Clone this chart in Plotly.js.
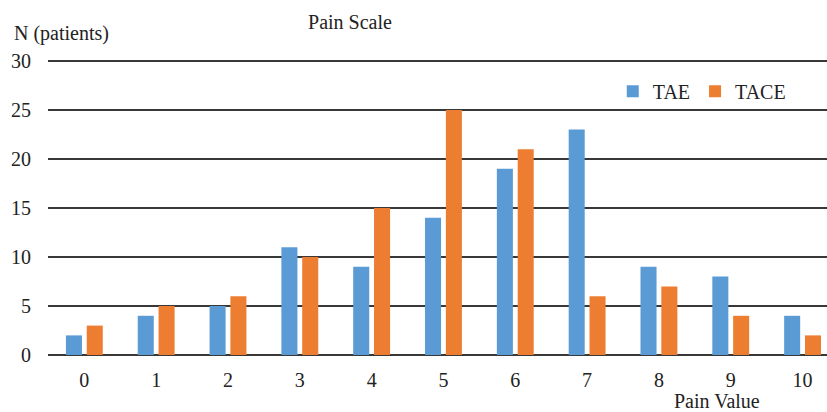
<!DOCTYPE html>
<html>
<head>
<meta charset="utf-8">
<script src="https://cdn.plot.ly/plotly-3.0.1.min.js"></script>
<style>html,body{margin:0;padding:0;background:#fff;}#chart{width:827px;height:412px;}</style>
</head>
<body>
<div id="chart"></div>
<script>
const categories = ['0','1','2','3','4','5','6','7','8','9','10'];
const taeValues = [2, 4, 5, 11, 9, 14, 19, 23, 9, 8, 4];
const taceValues = [3, 5, 6, 10, 15, 25, 21, 6, 7, 4, 2];
const yTicks = [0, 5, 10, 15, 20, 25, 30];

const font = {family: 'Liberation Serif', size: 20, color: '#222'};

const traces = [
  {type: 'bar', name: 'TAE', x: categories.map(Number), y: taeValues, marker: {color: '#5B9BD5'}},
  {type: 'bar', name: 'TACE', x: categories.map(Number), y: taceValues, marker: {color: '#ED7D31'}}
];

const layout = {
  width: 827, height: 412,
  margin: {l: 48, r: 0, t: 57, b: 57},
  paper_bgcolor: '#fff', plot_bgcolor: '#fff',
  font: font,
  barmode: 'group', bargap: 0.42, bargroupgap: 0.23,
  showlegend: true,
  legend: {orientation: 'h', x: 0.725, y: 0.885, xanchor: 'left', yanchor: 'middle', font: font, bgcolor: 'rgba(0,0,0,0)', itemwidth: 30},
  title: {text: 'Pain Scale', font: font, xref: 'container', yref: 'container', x: 350/827, xanchor: 'center', y: 1 - 22/412, yanchor: 'middle'},
  xaxis: {
    range: [-0.506, 10.34], tickvals: categories.map(Number), ticktext: categories,
    showgrid: false, zeroline: false, showline: false,
    ticks: 'outside', ticklen: 7, tickcolor: 'rgba(0,0,0,0)', tickfont: font, fixedrange: true
  },
  yaxis: {
    range: [0, 30.4], tickvals: yTicks, showgrid: true, gridcolor: '#383838', gridwidth: 1.6,
    zeroline: true, zerolinecolor: '#383838', zerolinewidth: 1.6, showline: false,
    ticks: 'outside', ticklen: 12, tickcolor: 'rgba(0,0,0,0)', tickfont: font, fixedrange: true
  },
  annotations: [
    {text: 'N (patients)', xref: 'paper', yref: 'paper', x: -0.0462, y: 1.0805, xanchor: 'left', yanchor: 'middle', showarrow: false, font: font},
    {text: 'Pain Value', xref: 'paper', yref: 'paper', x: 0.8588, y: -0.1544, xanchor: 'center', yanchor: 'middle', showarrow: false, font: font}
  ]
};

Plotly.newPlot('chart', traces, layout, {displayModeBar: false, staticPlot: true});
</script>
</body>
</html>
